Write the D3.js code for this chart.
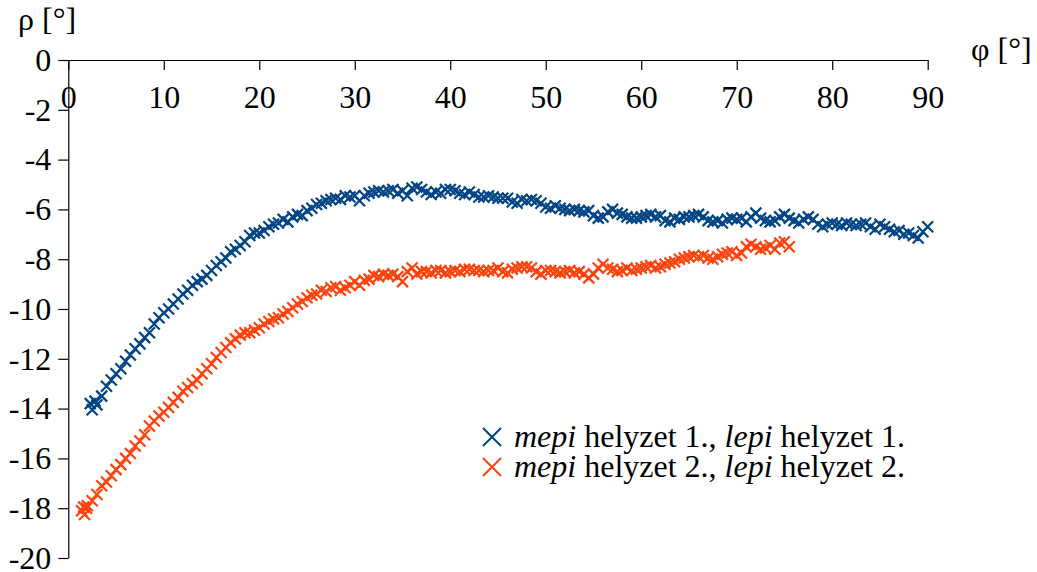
<!DOCTYPE html>
<html>
<head>
<meta charset="utf-8">
<script src="https://cdn.jsdelivr.net/npm/d3@7"></script>
</head>
<body style="margin:0;background:#fff">
<script>
var width = 1037, height = 572
var fontFam = "'Liberation Serif'"

// data: [phi, rho]
var series1 = [
  [2.3,-13.8],[2.5,-14.05],[2.8,-13.7],[3.0,-13.85],[3.5,-13.5],[4.0,-13.1],[4.5,-12.85],[5.0,-12.6],
  [5.5,-12.4],[6.0,-12.1],[6.5,-11.85],[7.0,-11.6],[7.5,-11.4],[8.0,-11.15],[8.5,-10.95],[9.0,-10.6],
  [9.5,-10.35],[10.0,-10.15],[10.5,-10.0],[11.0,-9.8],[11.5,-9.6],[12.0,-9.4],[12.5,-9.25],[13.0,-9.05],
  [13.5,-8.9],[14.0,-8.8],[14.5,-8.65],[15.0,-8.45],[15.5,-8.25],[16.0,-8.1],[16.5,-7.95],[17.0,-7.7],
  [17.5,-7.6],[18.0,-7.45],[18.5,-7.3],[19.0,-7.05],[19.5,-6.95],[20.0,-6.95],[20.5,-6.85],[21.0,-6.7],
  [21.5,-6.6],[22.0,-6.55],[22.5,-6.4],[23.0,-6.5],[23.5,-6.3],[24.0,-6.2],[24.5,-6.25],[25.0,-6.05],
  [25.5,-5.95],[26.0,-5.8],[26.5,-5.75],[27.0,-5.65],[27.5,-5.6],[28.0,-5.55],[28.5,-5.6],[29.0,-5.45],
  [29.5,-5.5],[30.0,-5.45],[30.5,-5.65],[31.0,-5.45],[31.5,-5.35],[32.0,-5.3],[32.5,-5.25],[33.0,-5.3],
  [33.5,-5.25],[34.0,-5.2],[34.5,-5.35],[35.0,-5.25],[35.5,-5.45],[36.0,-5.15],[36.5,-5.1],[37.0,-5.2],
  [37.5,-5.3],[38.0,-5.4],[38.5,-5.3],[39.0,-5.35],[39.5,-5.2],[40.0,-5.2],[40.5,-5.25],[41.0,-5.35],
  [41.5,-5.4],[42.0,-5.3],[42.5,-5.4],[43.0,-5.5],[43.5,-5.5],[44.0,-5.45],[44.5,-5.5],[45.0,-5.55],
  [45.5,-5.55],[46.0,-5.55],[46.5,-5.7],[47.0,-5.75],[47.5,-5.6],[48.0,-5.65],[48.5,-5.6],[49.0,-5.65],
  [49.5,-5.75],[50.0,-5.9],[50.5,-5.95],[51.0,-5.85],[51.5,-5.95],[52.0,-6.0],[52.5,-6.05],[53.0,-6.0],
  [53.5,-6.05],[54.0,-6.1],[54.5,-6.05],[55.0,-6.25],[55.5,-6.35],[56.0,-6.3],[56.5,-6.1],[57.0,-6.0],
  [57.5,-6.15],[58.0,-6.2],[58.5,-6.3],[59.0,-6.35],[59.5,-6.35],[60.0,-6.3],[60.5,-6.25],[61.0,-6.2],
  [61.5,-6.3],[62.0,-6.25],[62.5,-6.45],[63.0,-6.5],[63.5,-6.35],[64.0,-6.4],[64.5,-6.3],[65.0,-6.3],
  [65.5,-6.25],[66.0,-6.2],[66.5,-6.3],[67.0,-6.45],[67.5,-6.5],[68.0,-6.45],[68.5,-6.55],[69.0,-6.4],
  [69.5,-6.35],[70.0,-6.4],[70.5,-6.35],[71.0,-6.5],[71.5,-6.3],[72.0,-6.15],[72.5,-6.35],[73.0,-6.45],
  [73.5,-6.5],[74.0,-6.45],[74.5,-6.3],[75.0,-6.2],[75.5,-6.35],[76.0,-6.45],[76.5,-6.55],[77.0,-6.4],
  [77.5,-6.3],[78.0,-6.4],[78.5,-6.6],[79.0,-6.7],[79.5,-6.6],[80.0,-6.55],[80.5,-6.6],[81.0,-6.65],
  [81.5,-6.55],[82.0,-6.6],[82.5,-6.65],[83.0,-6.6],[83.5,-6.55],[84.0,-6.7],[84.5,-6.8],[85.0,-6.6],
  [85.5,-6.7],[86.0,-6.8],[86.5,-6.9],[87.0,-6.85],[87.5,-7.0],[88.0,-6.95],[88.5,-7.05],[89.0,-7.15],
  [89.5,-6.9],[90.0,-6.7]
]
var series2 = [
  [1.4,-18.1],[1.6,-17.95],[1.7,-18.25],[1.9,-18.0],[2.0,-17.9],[2.5,-17.7],[3.0,-17.45],[3.5,-17.1],
  [4.0,-16.95],[4.5,-16.7],[5.0,-16.45],[5.5,-16.25],[6.0,-16.0],[6.5,-15.8],[7.0,-15.5],[7.5,-15.3],
  [8.0,-15.05],[8.5,-14.7],[9.0,-14.5],[9.5,-14.3],[10.0,-14.15],[10.5,-13.95],[11.0,-13.75],[11.5,-13.55],
  [12.0,-13.3],[12.5,-13.15],[13.0,-13.0],[13.5,-12.85],[14.0,-12.6],[14.5,-12.4],[15.0,-12.2],[15.5,-11.95],
  [16.0,-11.75],[16.5,-11.55],[17.0,-11.35],[17.5,-11.2],[18.0,-11.05],[18.5,-10.95],[19.0,-10.95],[19.5,-10.85],
  [20.0,-10.75],[20.5,-10.6],[21.0,-10.5],[21.5,-10.4],[22.0,-10.35],[22.5,-10.2],[23.0,-10.1],[23.5,-9.95],
  [24.0,-9.8],[24.5,-9.7],[25.0,-9.55],[25.5,-9.45],[26.0,-9.4],[26.5,-9.25],[27.0,-9.3],[27.5,-9.15],
  [28.0,-9.1],[28.5,-9.25],[29.0,-9.15],[29.5,-9.05],[30.0,-8.9],[30.5,-9.05],[31.0,-8.85],[31.5,-8.8],
  [32.0,-8.65],[32.5,-8.7],[33.0,-8.6],[33.5,-8.65],[34.0,-8.6],[34.5,-8.7],[35.0,-8.9],[35.5,-8.5],
  [36.0,-8.35],[36.5,-8.6],[37.0,-8.5],[37.5,-8.5],[38.0,-8.55],[38.5,-8.45],[39.0,-8.45],[39.5,-8.55],
  [40.0,-8.5],[40.5,-8.45],[41.0,-8.5],[41.5,-8.4],[42.0,-8.4],[42.5,-8.45],[43.0,-8.45],[43.5,-8.5],
  [44.0,-8.45],[44.5,-8.45],[45.0,-8.35],[45.5,-8.5],[46.0,-8.55],[46.5,-8.4],[47.0,-8.35],[47.5,-8.3],
  [48.0,-8.3],[48.5,-8.35],[49.0,-8.5],[49.5,-8.6],[50.0,-8.45],[50.5,-8.45],[51.0,-8.5],[51.5,-8.55],
  [52.0,-8.5],[52.5,-8.45],[53.0,-8.55],[53.5,-8.5],[54.0,-8.6],[54.5,-8.75],[55.0,-8.6],[55.5,-8.35],
  [56.0,-8.2],[56.5,-8.35],[57.0,-8.4],[57.5,-8.5],[58.0,-8.45],[58.5,-8.35],[59.0,-8.45],[59.5,-8.4],
  [60.0,-8.35],[60.5,-8.3],[61.0,-8.25],[61.5,-8.35],[62.0,-8.3],[62.5,-8.2],[63.0,-8.15],[63.5,-8.1],
  [64.0,-8.0],[64.5,-7.95],[65.0,-7.9],[65.5,-7.85],[66.0,-7.9],[66.5,-7.85],[67.0,-7.95],[67.5,-8.0],
  [68.0,-7.9],[68.5,-7.8],[69.0,-7.75],[69.5,-7.7],[70.0,-7.85],[70.5,-7.75],[71.0,-7.5],[71.5,-7.4],
  [72.0,-7.5],[72.5,-7.6],[73.0,-7.55],[73.5,-7.45],[74.0,-7.6],[74.5,-7.35],[75.0,-7.3],[75.5,-7.5]
]
var xTicks = [0, 10, 20, 30, 40, 50, 60, 70, 80, 90]
var yTicks = [0, -2, -4, -6, -8, -10, -12, -14, -16, -18, -20]
var names = ["helyzet 1.", "helyzet 2."]
var colors = ["#004586", "#ff420e"]

var svg = d3.select("body").append("svg")
    .attr("width", width).attr("height", height)

var xScale = d3.scaleLinear().domain([0, 90]).range([68.3, 927.7])
var yScale = d3.scaleLinear().domain([0, -20]).range([60, 558])

var xAxis = d3.axisBottom(xScale).tickValues(xTicks).tickSize(10).tickSizeOuter(0).tickPadding(15)
var yAxis = d3.axisLeft(yScale).tickValues(yTicks).tickSize(10).tickSizeOuter(0).tickPadding(7)
    .tickFormat(d => String(d))

function styleAxis(g) {
    g.select(".domain").attr("stroke", "#000").attr("stroke-width", 1.2)
    g.selectAll(".tick line").attr("stroke", "#000").attr("stroke-width", 1.2)
    g.selectAll(".tick text").attr("fill", "#000")
        .style("font-family", fontFam).style("font-size", "32px")
}

svg.append("g").attr("transform", "translate(0," + yScale(0) + ")").call(xAxis).call(styleAxis)
svg.append("g").attr("transform", "translate(" + xScale(0) + ",0)").call(yAxis).call(styleAxis)

// axis titles
svg.append("text").attr("x", 18).attr("y", 30)
    .style("font-family", fontFam).style("font-size", "32px").text("ρ [°]")
svg.append("text").attr("x", 971).attr("y", 60)
    .style("font-family", fontFam).style("font-size", "32px").text("φ [°]")

// x markers
var cross = "M-5.5,-5.5L5.5,5.5M5.5,-5.5L-5.5,5.5"
;[series1, series2].forEach(function(s, i) {
    svg.append("g")
        .selectAll("path").data(s)
        .enter().append("path")
        .attr("d", cross)
        .attr("transform", d => "translate(" + xScale(d[0]) + "," + yScale(d[1]) + ")")
        .attr("stroke", colors[i]).attr("stroke-width", 2.2).attr("fill", "none")
})

// legend
names.forEach(function(n, i) {
    var ly = 437 + i * 30
    svg.append("path")
        .attr("d", "M-9,-9L9,9M9,-9L-9,9")
        .attr("transform", "translate(492," + ly + ")")
        .attr("stroke", colors[i]).attr("stroke-width", 2).attr("fill", "none")
    var t = svg.append("text").attr("x", 514).attr("y", ly + 10)
        .style("font-family", fontFam).style("font-size", "32px")
    t.append("tspan").style("font-style", "italic").text("mepi")
    t.append("tspan").text(" " + n + ", ")
    t.append("tspan").style("font-style", "italic").text("lepi")
    t.append("tspan").text(" " + n)
})
</script>
</body>
</html>
